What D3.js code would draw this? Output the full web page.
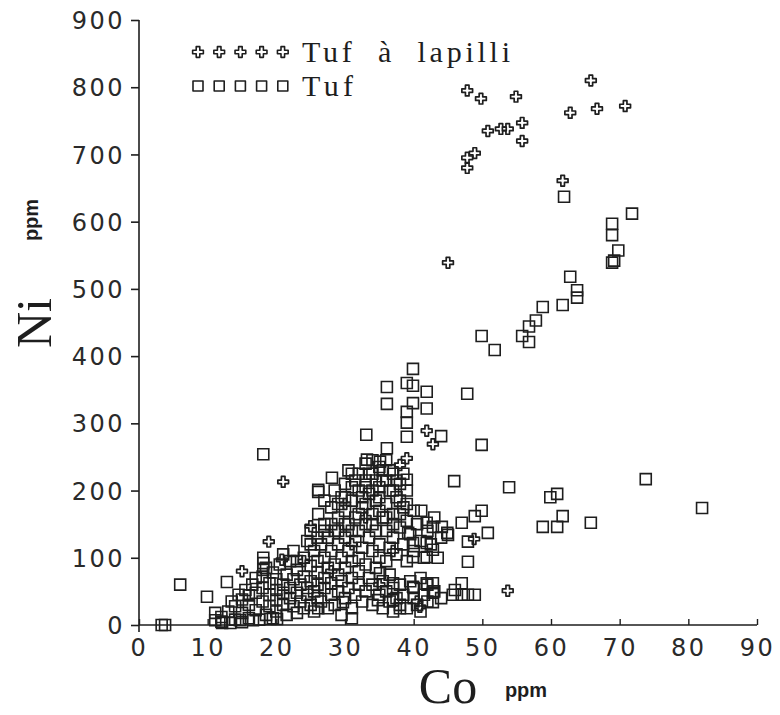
<!DOCTYPE html>
<html>
<head>
<meta charset="utf-8">
<script src="https://cdn.jsdelivr.net/npm/d3@7"></script>
<style>
  body { margin: 0; background: #fff; }
  svg { display: block; }
</style>
</head>
<body>
<svg id="chart" width="780" height="715"></svg>
<script>
// Axis ticks
const xTicks = [0, 10, 20, 30, 40, 50, 60, 70, 80, 90];
const yTicks = [0, 100, 200, 300, 400, 500, 600, 700, 800, 900];

// Tuf à lapilli  [Co ppm, Ni ppm]
const tufLapilli = [
  [47.8, 795], [49.8, 783], [54.9, 786], [65.8, 810], [62.8, 762], [66.7, 768],
  [70.8, 772], [50.8, 735], [52.7, 738], [53.7, 738], [55.8, 747], [55.8, 720],
  [48.9, 702], [47.8, 695], [47.8, 680], [61.7, 661], [45.0, 539],
  [21.0, 213], [41.9, 289], [42.8, 269], [25.0, 147], [18.9, 124], [15.0, 80],
  [20.8, 97], [53.7, 51], [48.8, 128], [39.0, 248], [38.0, 238], [40.9, 27],
  [30, 180], [33, 160], [28, 80], [24, 95], [37, 110], [40.5, 35], [35, 60], [31, 120]
];

// Tuf  [Co ppm, Ni ppm]
const tuf = [
  // upper trend
  [61.9, 637], [71.8, 612], [68.9, 597], [68.9, 580], [69.8, 557], [68.9, 539], [69.2, 542],
  [62.8, 518], [63.8, 498], [63.8, 487], [61.7, 476], [58.8, 473], [57.8, 453],
  [56.8, 444], [55.8, 430], [56.8, 421], [49.9, 430], [51.8, 409],
  // around Co 36-50, Ni 260-380
  [39.9, 381], [39.0, 360], [39.9, 356], [36.1, 354], [41.9, 347], [47.8, 344],
  [36.1, 329], [39.9, 330], [41.9, 322], [39.0, 317], [39.0, 301], [39.0, 280],
  [44.0, 281], [49.9, 268], [36.1, 263], [33.1, 283], [18.1, 254],
  // scattered right side
  [45.9, 214], [53.9, 205], [73.8, 217], [82.0, 174], [59.9, 190], [60.9, 195],
  [61.7, 162], [58.8, 146], [60.9, 146], [65.8, 152], [41.1, 170], [47.0, 152],
  [48.9, 162], [49.9, 170], [50.8, 137], [47.9, 124], [47.9, 94], [47.0, 62],
  [45.7, 45], [47.0, 45], [47.9, 45], [48.9, 45], [46.0, 52],
  [41.9, 62], [42.8, 62], [42.8, 48], [42.8, 34], [41.9, 152], [42.8, 146],
  [44.9, 137], [44.1, 146], [45.0, 134], [39.0, 216],
  [39.2, 137], [39.9, 122], [41.9, 122], [42.8, 112], [41.9, 101], [39.9, 101],
  // left outliers and bottom row
  [6.0, 60], [9.9, 42], [12.8, 64], [18.1, 100], [18.1, 92], [18.1, 82],
  [3.3, 0], [3.8, 0], [11.1, 18], [11.1, 7], [12.1, 3], [13.3, 3], [14.7, 7],
  [16.6, 7], [19.1, 9], [20.1, 9], [31.0, 10],
  [26.1, 198], [26.1, 165], [28.1, 219], [26.1, 201], [33.2, 246], [35.1, 243],
  [35.1, 77], [37.0, 62], [39.9, 57], [29.7, 34], [26.1, 25], [34.8, 37],
  [37.0, 37], [38.0, 25],
  // dense cluster
  [12, 5], [12, 12], [13, 20], [13.5, 35], [14, 8], [14, 28], [14.5, 45], [15, 4],
  [15, 18], [15, 38], [15.5, 52], [16, 10], [16, 30], [16, 44], [16.5, 60], [17, 22],
  [17, 48], [17, 70], [17.5, 8], [18, 35], [18, 55], [18, 72], [18.5, 15], [18.5, 85],
  [19, 28], [19, 45], [19, 62], [19.5, 10], [19.5, 78], [20, 20], [20, 38], [20, 52],
  [20, 68], [20.5, 90], [21, 30], [21, 48], [21, 60], [21.5, 15], [21.5, 75], [22, 40],
  [22, 55], [22, 95], [22.5, 28], [22.5, 68], [22.5, 110], [21, 105], [23, 95],
  [23, 18], [23, 48], [23, 82], [23.5, 35], [23.5, 60], [24, 25], [24, 72], [24, 100],
  [24.5, 45], [24.5, 55], [24.5, 125], [25, 30], [25, 65], [25, 88], [25, 140],
  [25.5, 20], [25.5, 50], [25.5, 110], [26, 40], [26, 78], [26, 95], [26, 60],
  [26, 130], [27, 140], [25, 120],
  [26.5, 120], [26.5, 35], [27, 55], [27, 70], [27, 100], [27, 150], [27.5, 25],
  [27.5, 85], [27.5, 130], [28, 45], [28, 62], [28, 110], [28, 175], [28.5, 30],
  [28.5, 90], [28.5, 140], [29, 50], [29, 75], [29, 120], [29, 160], [29.5, 15],
  [29.5, 100], [29.5, 190], [29.5, 65], [28.5, 200], [29, 180], [27, 185], [28, 150],
  [29, 140],
  [30, 40], [30, 85], [30, 130], [30, 170], [30, 210], [30.5, 55], [30.5, 110],
  [30.5, 150], [31, 25], [31, 70], [31, 95], [31, 185], [31, 225], [31.5, 45],
  [31.5, 125], [31.5, 160], [32, 60], [32, 100], [32, 140], [32, 200], [32, 80],
  [32.5, 35], [32.5, 175], [32.5, 115], [33, 50], [33, 90], [33, 150], [33, 215],
  [33, 240], [33.5, 130], [33.5, 70], [33.5, 195],
  [30, 190], [30.5, 230], [31, 205], [31.5, 215], [32, 225], [32.5, 190], [33, 205],
  [33.5, 225], [30, 150], [31, 140], [32, 165], [33, 180],
  [34, 30], [34, 110], [34, 165], [34, 225], [34, 60], [34.5, 85], [34.5, 140],
  [34.5, 185], [35, 45], [35, 120], [35, 205], [35, 235], [35, 100], [35.5, 25],
  [35.5, 65], [35.5, 160], [35.5, 215], [36, 50], [36, 95], [36, 140], [36, 180],
  [36, 245], [36.5, 35], [36.5, 115], [36.5, 200], [36.5, 75],
  [34, 200], [34, 245], [34.5, 215], [35, 190], [35.5, 230], [36, 215], [36.5, 230],
  [34, 150], [35, 170], [36, 160],
  [37, 20], [37, 55], [37, 130], [37, 165], [37, 225], [37.5, 40], [37.5, 105],
  [37.5, 190], [38, 60], [38, 145], [38, 210], [38, 30], [38.5, 120], [38.5, 175],
  [38.5, 45], [39, 25], [39, 95], [39, 155], [39, 200], [39.5, 65], [39.5, 135],
  [40, 40], [40, 110], [40, 170], [40, 55],
  [37, 200], [37.5, 215], [38, 185], [38.5, 225], [39, 180], [37, 150], [38, 165],
  [40.5, 30], [40.5, 150], [41, 70], [41, 125], [41, 20], [41.5, 45], [41.5, 100],
  [42, 35], [42, 60], [42, 140], [42.5, 120], [43, 50], [43, 160], [43.5, 100],
  [44, 130], [44, 40]
];

const legendLabels = ["Tuf  à  lapilli", "Tuf"];

const svg = d3.select("#chart");
const ink = "#1e1e1e";

const x = d3.scaleLinear().domain([0, 90]).range([139, 757]);
const y = d3.scaleLinear().domain([0, 900]).range([625, 20]);

// Axes
const yAxis = d3.axisLeft(y).tickValues(yTicks).tickSize(8).tickPadding(6);
const gy = svg.append("g").attr("transform", `translate(${x(0)},0)`).call(yAxis);
gy.select(".domain").remove();
gy.append("line")
  .attr("x1", 0).attr("x2", 0)
  .attr("y1", y(900)).attr("y2", y(0) + 7)
  .attr("stroke", ink).attr("stroke-width", 1.6);
gy.selectAll(".tick line").attr("stroke", ink).attr("stroke-width", 1.6);
gy.selectAll(".tick text")
  .attr("font-family", "DejaVu Sans, sans-serif")
  .attr("font-size", 24)
  .attr("letter-spacing", 2.5)
  .attr("fill", "#2a2a2a")
  .attr("dy", "0.36em");

const xAxis = d3.axisBottom(x).tickValues(xTicks).tickSize(-6).tickPadding(14);
const gx = svg.append("g").attr("transform", `translate(0,${y(0)})`).call(xAxis);
gx.select(".domain").remove();
gx.append("line")
  .attr("x1", x(0)).attr("x2", x(90))
  .attr("y1", 0).attr("y2", 0)
  .attr("stroke", ink).attr("stroke-width", 1.6);
gx.selectAll(".tick line").attr("stroke", ink).attr("stroke-width", 1.4);
gx.selectAll(".tick text")
  .attr("font-family", "DejaVu Sans, sans-serif")
  .attr("font-size", 24)
  .attr("letter-spacing", 2.5)
  .attr("fill", "#2a2a2a")
  .attr("dy", "0.71em");

// Axis titles (centred on their axes, unit label beside)
svg.append("text")
  .attr("transform", "translate(51,323) rotate(-90)")
  .attr("text-anchor", "middle")
  .attr("font-family", "Liberation Serif, serif")
  .attr("font-size", 50)
  .attr("fill", ink)
  .text("Ni");
svg.append("text")
  .attr("transform", "translate(38,220) rotate(-90)")
  .attr("text-anchor", "middle")
  .attr("font-family", "Liberation Sans, sans-serif")
  .attr("font-weight", "bold")
  .attr("font-size", 20)
  .attr("fill", ink)
  .text("ppm");
svg.append("text")
  .attr("x", 448).attr("y", 703)
  .attr("text-anchor", "middle")
  .attr("font-family", "Liberation Serif, serif")
  .attr("font-size", 50)
  .attr("fill", ink)
  .text("Co");
svg.append("text")
  .attr("x", 526).attr("y", 697)
  .attr("text-anchor", "middle")
  .attr("font-family", "Liberation Sans, sans-serif")
  .attr("font-weight", "bold")
  .attr("font-size", 20)
  .attr("fill", ink)
  .text("ppm");

// Markers
const cross = d3.symbol().type(d3.symbolCross).size(64);
const square = d3.symbol().type(d3.symbolSquare).size(121);

svg.append("g").selectAll("path")
  .data(tuf)
  .join("path")
  .attr("d", square)
  .attr("transform", d => `translate(${x(d[0])},${y(d[1])})`)
  .attr("fill", "none")
  .attr("stroke", ink)
  .attr("stroke-width", 1.6);

svg.append("g").selectAll("path")
  .data(tufLapilli)
  .join("path")
  .attr("d", cross)
  .attr("transform", d => `translate(${x(d[0])},${y(d[1])})`)
  .attr("fill", "none")
  .attr("stroke", ink)
  .attr("stroke-width", 1.7)
  .attr("stroke-linejoin", "round");

// Legend
const legend = svg.append("g");
const legendRows = [
  { label: legendLabels[0], sym: cross, cy: 52, width: 208 },
  { label: legendLabels[1], sym: d3.symbol().type(d3.symbolSquare).size(100), cy: 86, width: 51 }
];
legendRows.forEach(row => {
  d3.range(5).forEach(i => {
    legend.append("path")
      .attr("d", row.sym())
      .attr("transform", `translate(${198 + i * 21.2},${row.cy})`)
      .attr("fill", "none")
      .attr("stroke", ink)
      .attr("stroke-width", 1.6)
      .attr("stroke-linejoin", "round");
  });
  legend.append("text")
    .attr("x", 302).attr("y", row.cy + 10)
    .attr("font-family", "Liberation Serif, serif")
    .attr("font-size", 30)
    .attr("fill", ink)
    .attr("xml:space", "preserve")
    .style("white-space", "pre")
    .attr("textLength", row.width)
    .attr("lengthAdjust", "spacing")
    .text(row.label);
});
</script>
</body>
</html>
